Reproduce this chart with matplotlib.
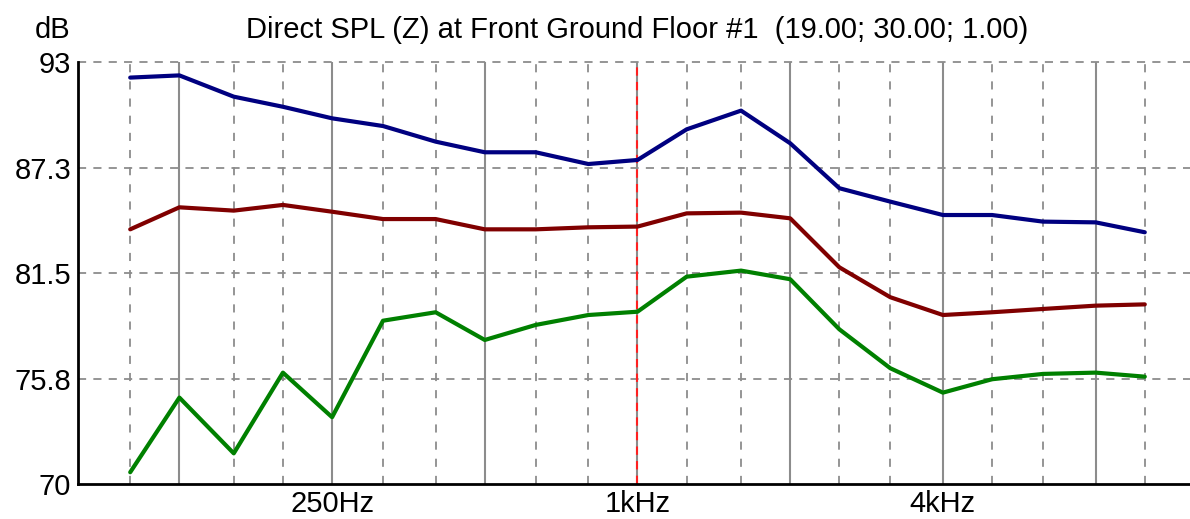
import matplotlib
matplotlib.use("Agg")
import matplotlib.pyplot as plt
import numpy as np

# ---- data ----
freqs = [100, 125, 160, 200, 250, 315, 400, 500, 630, 800, 1000,
         1250, 1600, 2000, 2500, 3150, 4000, 5000, 6300, 8000, 10000]
spl_blue = [92.15, 92.27, 91.11, 90.56, 89.93, 89.51, 88.66, 88.08, 88.08, 87.44, 87.66,
            89.33, 90.35, 88.57, 86.12, 85.39, 84.66, 84.66, 84.30, 84.26, 83.72]
spl_red = [83.88, 85.08, 84.90, 85.21, 84.84, 84.44, 84.44, 83.88, 83.88, 83.99, 84.03,
           84.75, 84.79, 84.48, 81.81, 80.18, 79.21, 79.36, 79.54, 79.72, 79.79]
spl_green = [70.64, 74.71, 71.67, 76.07, 73.64, 78.90, 79.36, 77.85, 78.67, 79.21, 79.39,
             81.30, 81.63, 81.16, 78.43, 76.31, 74.98, 75.71, 76.00, 76.07, 75.85]

octave_freqs = [125, 250, 500, 1000, 2000, 4000, 8000]
third_freqs = [100, 160, 200, 315, 400, 630, 800, 1250, 1600, 2500, 3150, 5000, 6300, 10000]
marker_freq = 1000
xtick_vals = [250, 1000, 4000]
xtick_labels = ["250Hz", "1kHz", "4kHz"]
ytick_vals = [70, 75.75, 81.5, 87.25, 93]
ytick_labels = ["70", "75.8", "81.5", "87.3", "93"]
title = "Direct SPL (Z) at Front Ground Floor #1  (19.00; 30.00; 1.00)"

plt.rcParams['font.family'] = ['Liberation Sans', 'DejaVu Sans']

W, H = 1190, 519
fig = plt.figure(figsize=(W / 100, H / 100), dpi=100)
left, right, bottom, top = 78, 1190, 484, 62
ax = fig.add_axes([left / W, 1 - bottom / H, (right - left) / W, (bottom - top) / H])

ax.set_xscale('log')
ax.set_xlim(78.9, 12278)
ax.set_ylim(70, 93)

grid_col = '#8c8c8c'
for f in third_freqs:
    ax.axvline(f, color=grid_col, lw=1.3, ls=(0, (4.5, 5)), zorder=1)
for f in octave_freqs:
    ax.axvline(f, color=grid_col, lw=1.5, ls='-', zorder=1)
ax.axvline(marker_freq, color='#ff2020', lw=1.5, ls=(0, (4, 3)), zorder=2)
for y in ytick_vals[1:]:
    ax.axhline(y, color=grid_col, lw=1.3, ls=(0, (4.5, 4)), zorder=1, clip_on=False)

ax.plot(freqs, spl_blue, color='#000080', lw=3.0, zorder=3, solid_capstyle='round')
ax.plot(freqs, spl_red, color='#800000', lw=3.0, zorder=3, solid_capstyle='round')
ax.plot(freqs, spl_green, color='#008000', lw=3.0, zorder=3, solid_capstyle='round')

ax.set_xticks(xtick_vals)
ax.set_xticklabels(xtick_labels)
ax.xaxis.set_minor_locator(matplotlib.ticker.NullLocator())
ax.set_yticks(ytick_vals)
ax.set_yticklabels(ytick_labels)
ax.tick_params(axis='both', length=0, labelsize=21, colors='#000000')
ax.tick_params(axis='y', pad=5)
ax.tick_params(axis='x', pad=4)

for s in ['top', 'right']:
    ax.spines[s].set_visible(False)
for s in ['left', 'bottom']:
    ax.spines[s].set_color('black')
    ax.spines[s].set_linewidth(2)

fig.text(637 / W, 1 - 30 / H, title, ha='center', va='center', fontsize=21)
fig.text(53 / W, 1 - 30 / H, "dB", ha='center', va='center', fontsize=21)

fig.savefig("out.png", dpi=100, facecolor='white')
